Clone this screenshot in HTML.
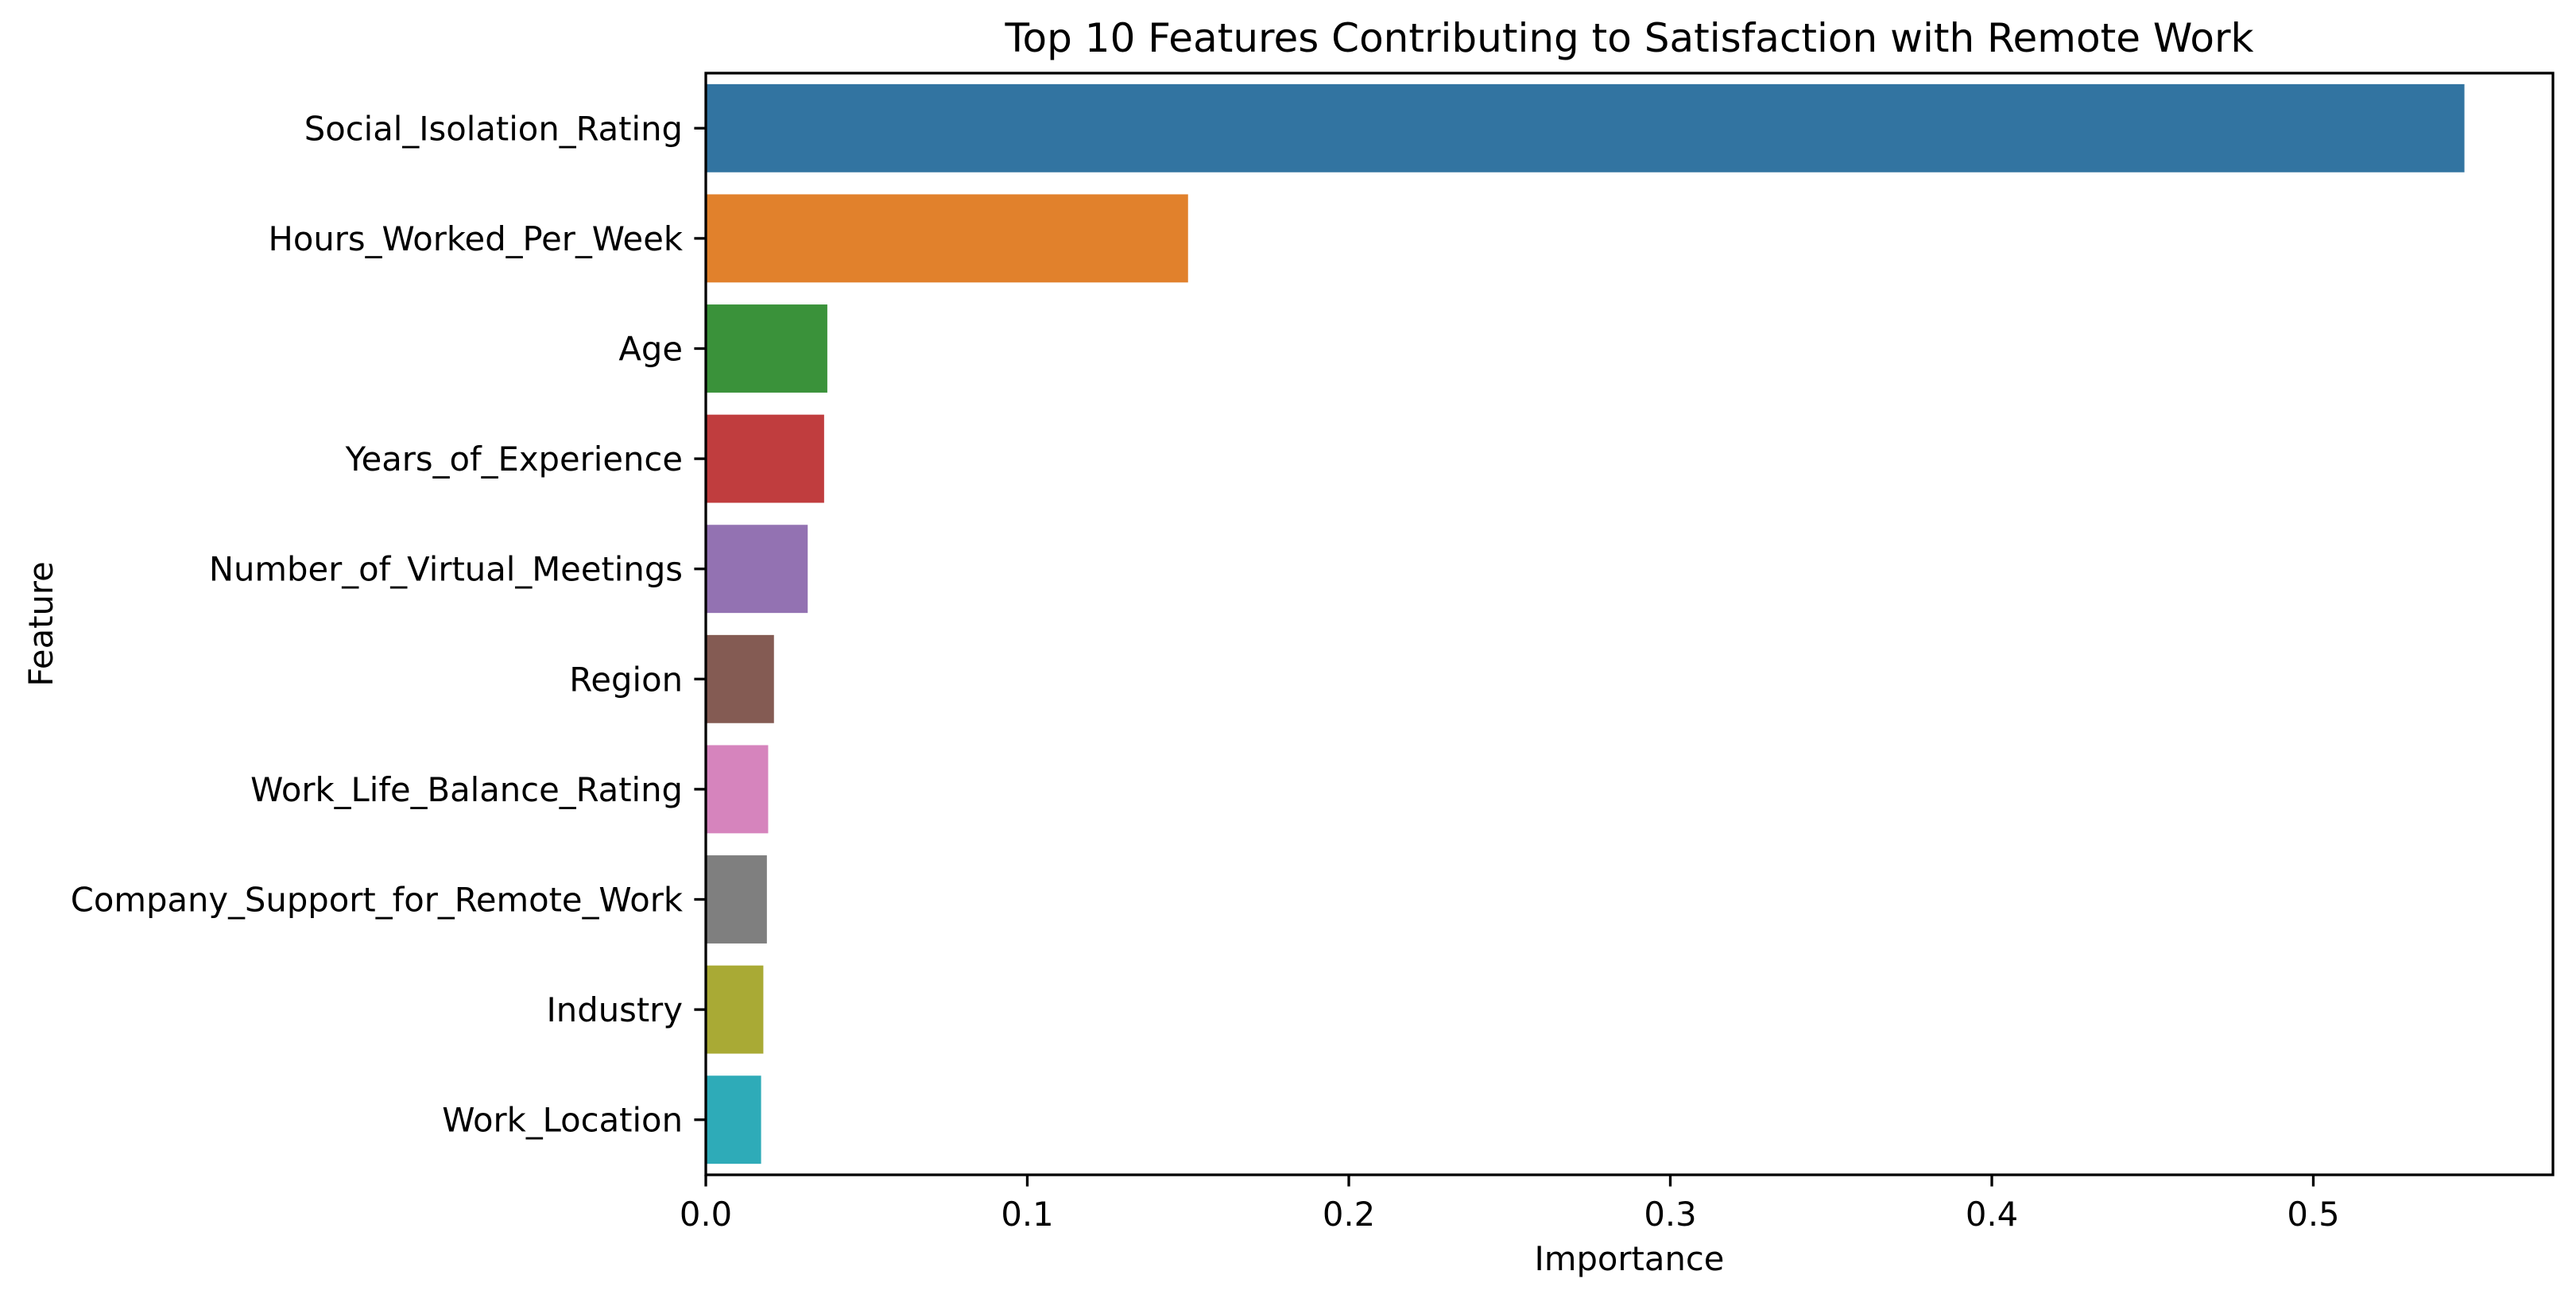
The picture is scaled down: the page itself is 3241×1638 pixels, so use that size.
<!DOCTYPE html>
<html><head><meta charset="utf-8"><style>
html,body{margin:0;padding:0;background:#fff;}
svg{display:block;font-family:"DejaVu Sans","Liberation Sans",sans-serif;}
</style></head><body>
<svg id="chart" width="3241" height="1638" viewBox="0 0 3241 1638" xmlns="http://www.w3.org/2000/svg">
<rect width="3241" height="1638" fill="#fff"/>
<text x="2050" y="65" font-size="50" text-anchor="middle">Top 10 Features Contributing to Satisfaction with Remote Work</text>
<text x="2050" y="1598" font-size="41.7" text-anchor="middle">Importance</text>
<text transform="translate(66,785) rotate(-90)" font-size="41.7" text-anchor="middle">Feature</text>
<g id="bars"></g>
<g id="axes"></g>
</svg>
<script>
const categories = ["Social_Isolation_Rating","Hours_Worked_Per_Week","Age","Years_of_Experience","Number_of_Virtual_Meetings","Region","Work_Life_Balance_Rating","Company_Support_for_Remote_Work","Industry","Work_Location"];
const importance = [0.547,0.150,0.0378,0.0368,0.0317,0.0212,0.0194,0.0190,0.0179,0.0172];
const xTicks = [0,0.1,0.2,0.3,0.4,0.5];
const xTickLabels = ["0.0","0.1","0.2","0.3","0.4","0.5"];
const colors = ["#3274a1","#e1812c","#3a923a","#c03d3e","#9372b2","#845b53","#d684bd","#7f7f7f","#a9aa35","#2eabb8"];

const L=888, R=3212, T=92, B=1478;
const pxPerUnit = 4045;
const xs = v => L + v*pxPerUnit;
const band = (B-T)/categories.length;
const ys = i => T + band*(i+0.5);
const NS="http://www.w3.org/2000/svg";
const bars=document.getElementById('bars'), axes=document.getElementById('axes');
function mk(tag, attrs, parent){const e=document.createElementNS(NS,tag);for(const k in attrs)e.setAttribute(k,attrs[k]);parent.appendChild(e);return e;}

categories.forEach((c,i)=>{
  const r=mk('rect',{x:xs(0),y:ys(i)-band*0.4,width:xs(importance[i])-xs(0),height:band*0.8,fill:colors[i]},bars);
  
  
  const t=mk('line',{x1:L-14.6,x2:L,y1:ys(i),y2:ys(i),stroke:'#000','stroke-width':3.3},axes);
  
  
  const lb=mk('text',{x:L-29,y:ys(i)+15,'font-size':41.7,'text-anchor':'end'},axes);
  lb.textContent=c;
  
  
});
xTicks.forEach((v,i)=>{
  const t=mk('line',{x1:xs(v),x2:xs(v),y1:B,y2:B+14.6,stroke:'#000','stroke-width':3.3},axes);
  
  
  const lb=mk('text',{x:xs(v),y:B+64,'font-size':41.7,'text-anchor':'middle'},axes);
  lb.textContent=xTickLabels[i];
  
  
});
const f=mk('rect',{x:L,y:T,width:R-L,height:B-T,fill:'none',stroke:'#000','stroke-width':3.3},axes);


</script>
</body></html>
